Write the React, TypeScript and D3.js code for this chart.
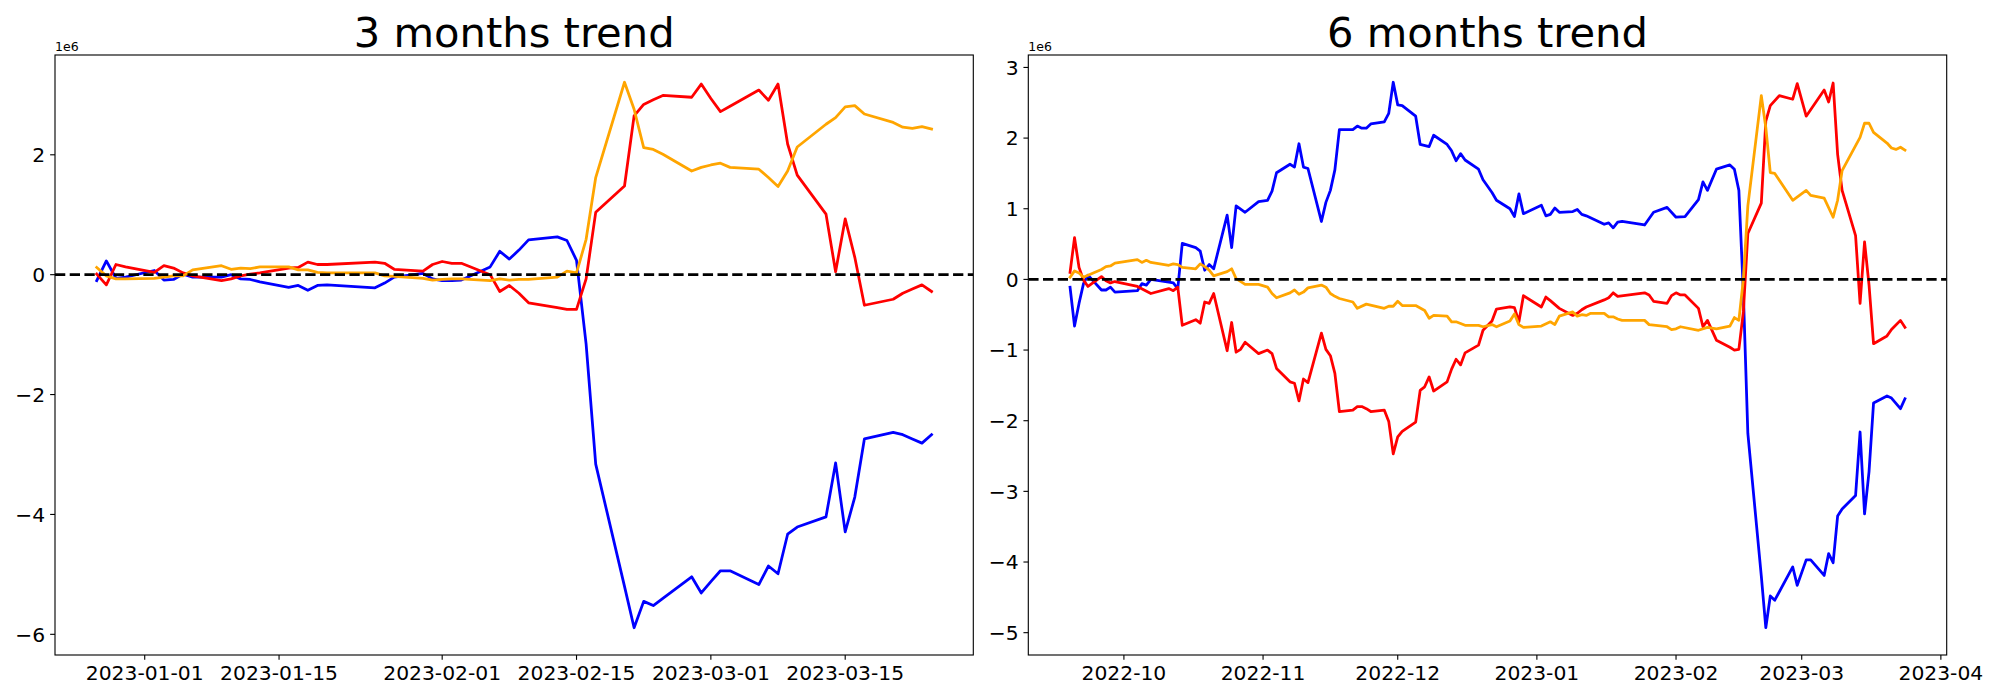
import React from "react";
import * as d3 from "d3";

// ---------- 3 months trend (values in units of 1e6) ----------
const threeMonthDates = [
  "2022-12-27","2022-12-28","2022-12-29","2022-12-30",
  "2023-01-02","2023-01-03","2023-01-04","2023-01-05","2023-01-06",
  "2023-01-09","2023-01-10","2023-01-11","2023-01-12","2023-01-13",
  "2023-01-16","2023-01-17","2023-01-18","2023-01-19","2023-01-20",
  "2023-01-25","2023-01-26","2023-01-27",
  "2023-01-30","2023-01-31","2023-02-01","2023-02-02","2023-02-03",
  "2023-02-06","2023-02-07","2023-02-08","2023-02-09","2023-02-10",
  "2023-02-13","2023-02-14","2023-02-15","2023-02-16","2023-02-17",
  "2023-02-20","2023-02-21","2023-02-22","2023-02-23","2023-02-24",
  "2023-02-27","2023-02-28","2023-03-01","2023-03-02","2023-03-03",
  "2023-03-06","2023-03-07","2023-03-08","2023-03-09","2023-03-10",
  "2023-03-13","2023-03-14","2023-03-15","2023-03-16","2023-03-17",
  "2023-03-20","2023-03-21","2023-03-22","2023-03-23","2023-03-24",
];
const threeMonthBlue = [
  -0.10, 0.23, -0.06, -0.04,
  0.07, -0.09, -0.08, 0.01, -0.04,
  -0.04, 0.00, -0.07, -0.08, -0.12,
  -0.21, -0.18, -0.26, -0.18, -0.17,
  -0.22, -0.14, -0.04,
  0.02, -0.07, -0.10, -0.10, -0.09,
  0.13, 0.39, 0.26, 0.41, 0.58,
  0.63, 0.57, 0.24, -1.16, -3.16,
  -5.2, -5.89, -5.45, -5.52, -5.40,
  -5.04, -5.31, -5.12, -4.94, -4.94,
  -5.17, -4.86, -4.99, -4.33, -4.21,
  -4.04, -3.14, -4.29, -3.71, -2.74,
  -2.63, -2.67, -2.74, -2.81, -2.67,
];
const threeMonthRed = [
  0.01, -0.17, 0.17, 0.13,
  0.04, 0.15, 0.11, 0.03, -0.02,
  -0.10, -0.07, -0.02, 0.01, 0.03,
  0.11, 0.12, 0.21, 0.17, 0.17,
  0.21, 0.19, 0.09,
  0.06, 0.17, 0.22, 0.19, 0.19,
  0.0, -0.28, -0.18, -0.31, -0.47,
  -0.55, -0.58, -0.58, -0.07, 1.04,
  1.48, 2.65, 2.84, 2.92, 2.99,
  2.96, 3.18, 2.94, 2.72, 2.81,
  3.08, 2.91, 3.18, 2.18, 1.66,
  1.01, 0.05, 0.93, 0.29, -0.51,
  -0.41, -0.31, -0.24, -0.17, -0.28,
];
const threeMonthOrange = [
  0.12, -0.02, -0.07, -0.07,
  -0.06, -0.04, -0.02, -0.02, 0.08,
  0.15, 0.09, 0.11, 0.10, 0.13,
  0.13, 0.08, 0.08, 0.04, 0.03,
  0.03, -0.02, -0.03,
  -0.06, -0.09, -0.08, -0.07, -0.07,
  -0.10, -0.07, -0.09, -0.08, -0.08,
  -0.04, 0.06, 0.03, 0.59, 1.62,
  3.21, 2.76, 2.12, 2.09, 2.01,
  1.73, 1.79, 1.83, 1.86, 1.79,
  1.76, 1.62, 1.47, 1.73, 2.13,
  2.51, 2.62, 2.80, 2.82, 2.68,
  2.54, 2.46, 2.44, 2.47, 2.43,
];

// ---------- 6 months trend (values in units of 1e6) ----------
const sixMonthBlueDates = [
  "2022-09-19","2022-09-20","2022-09-21","2022-09-22","2022-09-23","2022-09-26","2022-09-27","2022-09-28","2022-09-29",
  "2022-10-04","2022-10-05","2022-10-06","2022-10-07","2022-10-11","2022-10-12","2022-10-13","2022-10-14",
  "2022-10-17","2022-10-18","2022-10-19","2022-10-20","2022-10-21","2022-10-24","2022-10-25","2022-10-26","2022-10-28",
  "2022-10-31","2022-11-02","2022-11-03","2022-11-04","2022-11-07","2022-11-08","2022-11-09","2022-11-10","2022-11-11",
  "2022-11-14","2022-11-15","2022-11-16","2022-11-17","2022-11-18","2022-11-21","2022-11-22","2022-11-23","2022-11-24","2022-11-25",
  "2022-11-28","2022-11-29","2022-11-30","2022-12-01","2022-12-02","2022-12-05","2022-12-06","2022-12-08","2022-12-09",
  "2022-12-12","2022-12-13","2022-12-14","2022-12-15","2022-12-16","2022-12-19","2022-12-20","2022-12-22","2022-12-23",
  "2022-12-26","2022-12-27","2022-12-28","2022-12-29","2023-01-02","2023-01-03","2023-01-04","2023-01-05","2023-01-06",
  "2023-01-09","2023-01-10","2023-01-11","2023-01-12","2023-01-16","2023-01-17","2023-01-18","2023-01-19","2023-01-20",
  "2023-01-25","2023-01-27","2023-01-30","2023-02-01","2023-02-03","2023-02-06","2023-02-07","2023-02-08","2023-02-10",
  "2023-02-13","2023-02-14","2023-02-15","2023-02-16","2023-02-17","2023-02-20","2023-02-21","2023-02-22","2023-02-23",
  "2023-02-27","2023-02-28","2023-03-02","2023-03-03","2023-03-06","2023-03-07","2023-03-08","2023-03-09","2023-03-10",
  "2023-03-13","2023-03-14","2023-03-15","2023-03-16","2023-03-17","2023-03-20","2023-03-21","2023-03-23","2023-03-24",
];
const sixMonthBlue = [
  -0.11, -0.66, -0.34, -0.06, 0.06, -0.15, -0.15, -0.11, -0.18,
  -0.16, -0.06, -0.08, 0.00, -0.04, -0.05, -0.13, 0.51,
  0.45, 0.40, 0.13, 0.21, 0.15, 0.91, 0.45, 1.04, 0.95,
  1.10, 1.12, 1.25, 1.51, 1.63, 1.59, 1.92, 1.59, 1.57,
  0.82, 1.09, 1.26, 1.55, 2.12, 2.12, 2.17, 2.14, 2.14, 2.20,
  2.23, 2.35, 2.79, 2.47, 2.46, 2.31, 1.91, 1.88, 2.04,
  1.91, 1.82, 1.68, 1.78, 1.69, 1.56, 1.41, 1.23, 1.12,
  1.00, 0.89, 1.21, 0.93, 1.05, 0.90, 0.92, 1.01, 0.95,
  0.96, 0.99, 0.92, 0.90, 0.78, 0.80, 0.73, 0.81, 0.82,
  0.77, 0.95, 1.02, 0.88, 0.89, 1.13, 1.38, 1.26, 1.56,
  1.62, 1.56, 1.26, -0.19, -2.18, -4.2, -4.93, -4.48, -4.54,
  -4.07, -4.33, -3.97, -3.97, -4.19, -3.88, -4.01, -3.35, -3.25,
  -3.06, -2.16, -3.32, -2.72, -1.75, -1.65, -1.68, -1.83, -1.69,
];

const sixMonthRedDates = [
  "2022-09-19","2022-09-20","2022-09-21","2022-09-22","2022-09-23","2022-09-26","2022-09-27","2022-09-28","2022-09-29",
  "2022-10-04","2022-10-07","2022-10-11","2022-10-12","2022-10-13","2022-10-14",
  "2022-10-17","2022-10-18","2022-10-19","2022-10-20","2022-10-21","2022-10-24","2022-10-25","2022-10-26","2022-10-27","2022-10-28",
  "2022-10-31","2022-11-02","2022-11-03","2022-11-04","2022-11-07","2022-11-08","2022-11-09","2022-11-10","2022-11-11",
  "2022-11-14","2022-11-15","2022-11-16","2022-11-17","2022-11-18","2022-11-21","2022-11-22","2022-11-23","2022-11-24","2022-11-25",
  "2022-11-28","2022-11-29","2022-11-30","2022-12-01","2022-12-02","2022-12-05","2022-12-06","2022-12-07","2022-12-08","2022-12-09",
  "2022-12-12","2022-12-13","2022-12-14","2022-12-15","2022-12-16","2022-12-19","2022-12-20","2022-12-22","2022-12-23",
  "2022-12-26","2022-12-27","2022-12-28","2022-12-29","2023-01-02","2023-01-03","2023-01-04","2023-01-06",
  "2023-01-09","2023-01-10","2023-01-11","2023-01-12","2023-01-16","2023-01-17","2023-01-18","2023-01-19",
  "2023-01-25","2023-01-26","2023-01-27","2023-01-30","2023-01-31","2023-02-01","2023-02-02","2023-02-03",
  "2023-02-06","2023-02-07","2023-02-08","2023-02-10","2023-02-13","2023-02-14","2023-02-15","2023-02-16","2023-02-17",
  "2023-02-20","2023-02-21","2023-02-22","2023-02-24","2023-02-27","2023-02-28","2023-03-02",
  "2023-03-06","2023-03-07","2023-03-08","2023-03-09","2023-03-10","2023-03-13","2023-03-14","2023-03-15","2023-03-16","2023-03-17",
  "2023-03-20","2023-03-21","2023-03-23","2023-03-24",
];
const sixMonthRed = [
  0.10, 0.59, 0.17, -0.01, -0.10, 0.04, -0.02, -0.05, -0.03,
  -0.10, -0.20, -0.13, -0.16, -0.11, -0.65,
  -0.57, -0.62, -0.32, -0.34, -0.20, -1.01, -0.61, -1.03, -0.99, -0.89,
  -1.05, -1.00, -1.05, -1.26, -1.45, -1.47, -1.72, -1.41, -1.46,
  -0.76, -0.99, -1.08, -1.33, -1.87, -1.85, -1.80, -1.80, -1.83, -1.87,
  -1.85, -2.01, -2.47, -2.23, -2.15, -2.02, -1.57, -1.52, -1.38, -1.58,
  -1.45, -1.27, -1.13, -1.21, -1.04, -0.93, -0.72, -0.59, -0.42,
  -0.39, -0.40, -0.60, -0.23, -0.39, -0.25, -0.30, -0.41,
  -0.51, -0.48, -0.43, -0.39, -0.29, -0.26, -0.19, -0.24,
  -0.19, -0.22, -0.31, -0.34, -0.23, -0.19, -0.22, -0.22,
  -0.41, -0.67, -0.58, -0.86, -0.96, -1.00, -0.99, -0.46, 0.65,
  1.08, 2.24, 2.46, 2.60, 2.55, 2.77, 2.31,
  2.68, 2.51, 2.78, 1.77, 1.26, 0.62, -0.34, 0.53, -0.08, -0.91,
  -0.80, -0.71, -0.58, -0.68,
];

const sixMonthOrangeDates = [
  "2022-09-19","2022-09-20","2022-09-21","2022-09-22","2022-09-23","2022-09-26","2022-09-27","2022-09-28","2022-09-29",
  "2022-10-04","2022-10-05","2022-10-06","2022-10-07","2022-10-11","2022-10-12","2022-10-13","2022-10-14",
  "2022-10-17","2022-10-18","2022-10-19","2022-10-20","2022-10-21","2022-10-24","2022-10-25","2022-10-26","2022-10-28",
  "2022-10-31","2022-11-02","2022-11-03","2022-11-04","2022-11-07","2022-11-08","2022-11-09","2022-11-10","2022-11-11",
  "2022-11-14","2022-11-15","2022-11-16","2022-11-17","2022-11-18","2022-11-21","2022-11-22","2022-11-24",
  "2022-11-28","2022-11-29","2022-11-30","2022-12-01","2022-12-02","2022-12-05","2022-12-07","2022-12-08","2022-12-09",
  "2022-12-12","2022-12-13","2022-12-14","2022-12-16","2022-12-19","2022-12-20","2022-12-22","2022-12-23",
  "2022-12-26","2022-12-27","2022-12-28","2022-12-29","2023-01-02","2023-01-04","2023-01-05","2023-01-06",
  "2023-01-09","2023-01-10","2023-01-11","2023-01-12","2023-01-13","2023-01-16","2023-01-17","2023-01-18","2023-01-19","2023-01-20",
  "2023-01-25","2023-01-26","2023-01-30","2023-01-31","2023-02-01","2023-02-02","2023-02-06","2023-02-08","2023-02-10",
  "2023-02-13","2023-02-14","2023-02-15","2023-02-16","2023-02-17","2023-02-20","2023-02-21","2023-02-22","2023-02-23",
  "2023-02-27","2023-03-02","2023-03-03","2023-03-06","2023-03-08","2023-03-09","2023-03-10",
  "2023-03-14","2023-03-15","2023-03-16","2023-03-17","2023-03-20","2023-03-21","2023-03-22","2023-03-23","2023-03-24",
];
const sixMonthOrange = [
  0.03, 0.12, 0.09, 0.03, 0.06, 0.14, 0.18, 0.19, 0.23,
  0.28, 0.24, 0.27, 0.24, 0.20, 0.22, 0.21, 0.17,
  0.15, 0.22, 0.18, 0.13, 0.05, 0.11, 0.15, 0.01, -0.07,
  -0.07, -0.11, -0.20, -0.26, -0.19, -0.15, -0.21, -0.18, -0.12,
  -0.08, -0.11, -0.20, -0.24, -0.27, -0.32, -0.41, -0.35,
  -0.41, -0.38, -0.38, -0.31, -0.37, -0.37, -0.44, -0.55, -0.51,
  -0.52, -0.60, -0.60, -0.65, -0.65, -0.67, -0.64, -0.67,
  -0.59, -0.49, -0.64, -0.68, -0.66, -0.60, -0.64, -0.52,
  -0.46, -0.52, -0.50, -0.51, -0.48, -0.48, -0.53, -0.53, -0.56, -0.58,
  -0.58, -0.64, -0.67, -0.71, -0.70, -0.67, -0.72, -0.68, -0.70,
  -0.66, -0.54, -0.58, 0.00, 1.04, 2.60, 2.15, 1.51, 1.50,
  1.12, 1.26, 1.19, 1.15, 0.88, 1.12, 1.54,
  2.01, 2.21, 2.21, 2.08, 1.93, 1.86, 1.84, 1.87, 1.83,
];

// ---------- ticks ----------
const threeMonthXTicks = ["2023-01-01","2023-01-15","2023-02-01","2023-02-15","2023-03-01","2023-03-15"];
const sixMonthXTicks = ["2022-10-01","2022-11-01","2022-12-01","2023-01-01","2023-02-01","2023-03-01","2023-04-01"];
const threeMonthYTicks = [-6, -4, -2, 0, 2];
const sixMonthYTicks = [-5, -4, -3, -2, -1, 0, 1, 2, 3];

const parse = d3.timeParse("%Y-%m-%d");
const FONT = "DejaVu Sans, Liberation Sans, sans-serif";
const PT = 100 / 72;

type Series = { dates: string[]; values: number[]; color: string };

function Panel(props: {
  title: string;
  x0: number; x1: number; y0: number; y1: number;
  series: Series[];
  xTicks: string[];
  xFmt: string;
  yTicks: number[];
}) {
  const { title, x0, x1, y0, y1, series, xTicks, xFmt, yTicks } = props;
  const allDates = series.flatMap((s) => s.dates.map((d) => parse(d)!.getTime()));
  const [dMin, dMax] = d3.extent(allDates) as [number, number];
  const dSpan = dMax - dMin;
  const x = d3.scaleTime()
    .domain([new Date(dMin - 0.05 * dSpan), new Date(dMax + 0.05 * dSpan)])
    .range([x0, x1]);
  const allVals = series.flatMap((s) => s.values);
  const [vMin, vMax] = d3.extent(allVals) as [number, number];
  const vSpan = vMax - vMin;
  const y = d3.scaleLinear()
    .domain([vMin - 0.05 * vSpan, vMax + 0.05 * vSpan])
    .range([y1, y0]);
  const line = d3.line<[Date, number]>().x((d) => x(d[0])).y((d) => y(d[1]));
  const fmt = d3.timeFormat(xFmt);
  const tickLen = 3.5 * PT;
  const tickPad = 3.5 * PT;
  const labelSize = 20.3;
  const clipId = "clip-" + title.replace(/\s+/g, "");

  return (
    <g>
      <defs>
        <clipPath id={clipId}>
          <rect x={x0} y={y0} width={x1 - x0} height={y1 - y0} />
        </clipPath>
      </defs>
      <g clipPath={`url(#${clipId})`}>
        {series.map((s, i) => (
          <path
            key={i}
            d={line(s.dates.map((d, j) => [parse(d)!, s.values[j]] as [Date, number])) || ""}
            fill="none"
            stroke={s.color}
            strokeWidth={2 * PT}
            strokeLinejoin="round"
            strokeLinecap="square"
          />
        ))}
        <line
          x1={x0} x2={x1} y1={y(0)} y2={y(0)}
          stroke="#000" strokeWidth={2 * PT}
          strokeDasharray={`${3.7 * 2 * PT} ${1.6 * 2 * PT}`}
        />
      </g>
      <rect x={x0} y={y0} width={x1 - x0} height={y1 - y0} fill="none" stroke="#000" strokeWidth={0.8 * PT} />
      {xTicks.map((t) => {
        const px = x(parse(t)!);
        return (
          <g key={t}>
            <line x1={px} x2={px} y1={y1} y2={y1 + tickLen} stroke="#000" strokeWidth={0.8 * PT} />
            <text x={px} y={y1 + tickLen + tickPad + 0.76 * labelSize} textAnchor="middle"
              fontFamily={FONT} fontSize={labelSize} fill="#000">
              {fmt(parse(t)!)}
            </text>
          </g>
        );
      })}
      {yTicks.map((t) => {
        const py = y(t);
        return (
          <g key={t}>
            <line x1={x0 - tickLen} x2={x0} y1={py} y2={py} stroke="#000" strokeWidth={0.8 * PT} />
            <text x={x0 - tickLen - tickPad} y={py + 0.365 * labelSize} textAnchor="end"
              fontFamily={FONT} fontSize={labelSize} fill="#000">
              {t < 0 ? "\u2212" + Math.abs(t) : String(t)}
            </text>
          </g>
        );
      })}
      <text x={x0} y={50.5} fontFamily={FONT} fontSize={12.5} fill="#000">1e6</text>
      <text x={(x0 + x1) / 2} y={46.5} textAnchor="middle" fontFamily={FONT} fontSize={30 * PT} fill="#000">
        {title}
      </text>
    </g>
  );
}

export default function App() {
  const left: Series[] = [
    { dates: threeMonthDates, values: threeMonthBlue, color: "#0000ff" },
    { dates: threeMonthDates, values: threeMonthRed, color: "#ff0000" },
    { dates: threeMonthDates, values: threeMonthOrange, color: "#ffa500" },
  ];
  const right: Series[] = [
    { dates: sixMonthBlueDates, values: sixMonthBlue, color: "#0000ff" },
    { dates: sixMonthRedDates, values: sixMonthRed, color: "#ff0000" },
    { dates: sixMonthOrangeDates, values: sixMonthOrange, color: "#ffa500" },
  ];
  return (
    <svg
      width={2000}
      height={700}
      style={{ position: "absolute", left: 0, top: 0, background: "#fff", display: "block" }}
    >
      <rect x={0} y={0} width={2000} height={700} fill="#fff" />
      <Panel title="3 months trend" x0={55} x1={973.3} y0={55} y1={655}
        series={left} xTicks={threeMonthXTicks} xFmt="%Y-%m-%d" yTicks={threeMonthYTicks} />
      <Panel title="6 months trend" x0={1028.3} x1={1946.7} y0={55} y1={655}
        series={right} xTicks={sixMonthXTicks} xFmt="%Y-%m" yTicks={sixMonthYTicks} />
    </svg>
  );
}
